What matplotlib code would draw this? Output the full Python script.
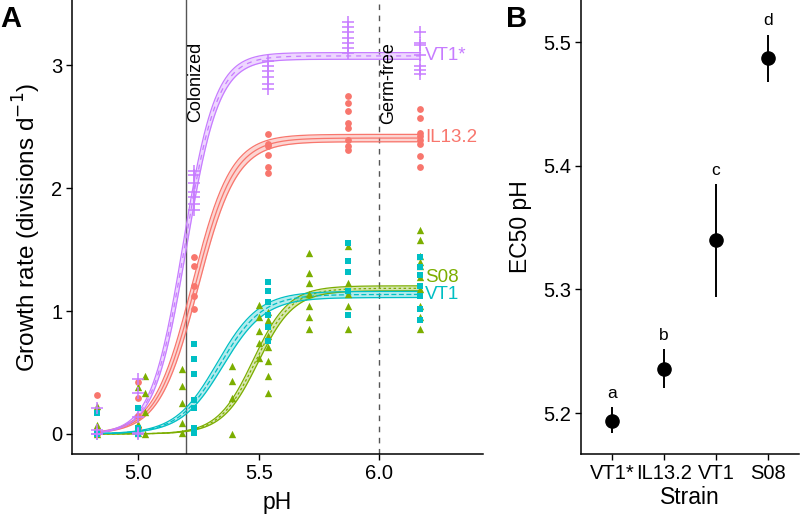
import numpy as np
import matplotlib
matplotlib.use("Agg")
import matplotlib.pyplot as plt

plt.rcParams['font.family'] = ['Liberation Sans', 'DejaVu Sans']

# strains in legend/group order
strains = ["IL13.2", "S08", "VT1", "VT1*"]
colors = ["#F8766D", "#7CAE00", "#00BFC4", "#C77CFF"]
markers = ["o", "^", "s", "+"]
dashes = [None, (2, 2), (4, 2), (4, 4)]

# growth rate observations: pH -> rates (divisions per day)
il132_obs = {4.83: [0.32, 0.03, 0.01, 0.0],
             5.00: [0.42, 0.29, 0.15, 0.05],
             5.23: [1.44, 1.37, 1.20, 1.12, 1.02],
             5.54: [2.44, 2.36, 2.34, 2.27, 2.17, 2.12],
             5.87: [2.75, 2.69, 2.63, 2.53, 2.49, 2.39, 2.34, 2.31],
             6.17: [2.64, 2.57, 2.45, 2.42, 2.39, 2.36, 2.26, 2.17]}
s08_obs = {4.83: [0.23, 0.07, 0.0],
           5.00: [0.38, 0.08, 0.01],
           5.03: [0.47, 0.33, 0.18, 0.0],
           5.18: [0.53, 0.39, 0.25, 0.09, 0.01],
           5.39: [0.55, 0.43, 0.29, 0.0],
           5.50: [1.05, 0.95, 0.84, 0.74, 0.62],
           5.54: [0.99, 0.93, 0.80, 0.71, 0.59, 0.47, 0.33],
           5.71: [1.47, 1.31, 1.23, 1.14, 1.04, 0.95, 0.85],
           5.87: [1.53, 1.23, 1.14, 1.04, 0.85],
           6.17: [1.66, 1.58, 1.45, 1.40, 1.37, 1.28, 1.18, 1.04, 0.95, 0.85]}
vt1_obs = {4.83: [0.17, 0.01, 0.0],
           5.00: [0.21, 0.05, 0.0],
           5.23: [0.73, 0.61, 0.49, 0.28, 0.21, 0.05, 0.01],
           5.54: [1.24, 1.16, 1.07, 0.97, 0.87, 0.76],
           5.87: [1.55, 1.41, 1.32, 1.16, 0.97],
           6.17: [1.44, 1.36, 1.29, 1.20, 1.12, 1.02, 0.93]}
vt1s_obs = {4.83: [0.21, 0.03, 0.0, 0.0],
            5.00: [0.45, 0.33, 0.14, 0.01, 0.0],
            5.23: [2.14, 2.11, 2.04, 1.97, 1.93, 1.87, 1.82],
            5.54: [3.03, 2.99, 2.95, 2.90, 2.85, 2.81],
            5.87: [3.35, 3.31, 3.27, 3.22, 3.18, 3.14, 3.10],
            6.17: [3.27, 3.18, 3.16, 3.08, 2.99, 2.96, 2.93]}
observations = [il132_obs, s08_obs, vt1_obs, vt1s_obs]

# logistic fit parameters
fit_max = [2.407, 1.185, 1.135, 3.075]
fit_ec50 = [5.236, 5.487, 5.340, 5.194]
fit_rate = [12.5, 13.5, 11.5, 15.0]
band_dmax = [0.03, 0.02, 0.025, 0.027]
band_dec50 = [0.012, 0.010, 0.012, 0.007]
label_y = [2.41, 1.275, 1.135, 3.08]

# EC50 estimates (panel B)
ec50_strains = ["VT1*", "IL13.2", "VT1", "S08"]
ec50_est = [5.194, 5.236, 5.340, 5.487]
ec50_lo = [5.184, 5.220, 5.294, 5.468]
ec50_hi = [5.205, 5.252, 5.385, 5.506]
ec50_group = ["a", "b", "c", "d"]


def logistic(x, k, ec, r):
    return k / (1 + np.exp(-r * (x - ec)))


def style(ax):
    for s in ["top", "right"]:
        ax.spines[s].set_visible(False)
    for s in ["left", "bottom"]:
        ax.spines[s].set_linewidth(1.1)
    ax.tick_params(direction="out", length=4, width=1, labelsize=14.5,
                   colors="black", pad=3)


fig = plt.figure(figsize=(8, 5.14), dpi=100)
axA = fig.add_axes([0.09, 0.1167, 0.514, 0.8833])
axB = fig.add_axes([0.726, 0.1167, 0.273, 0.8833])

# panel A
xs = np.linspace(4.83, 6.17, 300)
for i, name in enumerate(strains):
    c = colors[i]
    lo = logistic(xs, fit_max[i] - band_dmax[i], fit_ec50[i] + band_dec50[i], fit_rate[i])
    hi = logistic(xs, fit_max[i] + band_dmax[i], fit_ec50[i] - band_dec50[i], fit_rate[i])
    axA.fill_between(xs, lo, hi, color=c, alpha=0.3, lw=0, zorder=2)
    axA.plot(xs, lo, color=c, lw=0.9, zorder=3)
    axA.plot(xs, hi, color=c, lw=0.9, zorder=3)
    mid, = axA.plot(xs, logistic(xs, fit_max[i], fit_ec50[i], fit_rate[i]),
                    color=c, lw=0.9, zorder=3)
    if dashes[i] is not None:
        mid.set_dashes(dashes[i])
    axA.text(6.19, label_y[i], name, color=c, fontsize=13.5, ha="left", va="center",
             zorder=5)

for i, obs in enumerate(observations):
    px = [p for p, vals in obs.items() for _ in vals]
    py = [v for vals in obs.values() for v in vals]
    if markers[i] == "+":
        axA.scatter(px, py, marker="+", s=75, color=colors[i], linewidths=1.1, zorder=4)
    else:
        size = 28 if markers[i] == "^" else 24
        axA.scatter(px, py, marker=markers[i], s=size, color=colors[i],
                    linewidths=0, zorder=4)

axA.axvline(5.2, color="#555555", lw=1.0, zorder=1)
axA.axvline(6.0, color="#555555", lw=1.0, ls=(0, (4, 4)), zorder=1)
axA.text(5.203, 3.19, "Colonized", rotation=90, ha="left", va="top", fontsize=13)
axA.text(6.003, 3.19, "Germ-free", rotation=90, ha="left", va="top", fontsize=13)

axA.set_xlim(4.726, 6.43)
axA.set_ylim(-0.163, 3.53)
axA.set_xticks([5.0, 5.5, 6.0])
axA.set_xticklabels(["5.0", "5.5", "6.0"])
axA.set_yticks([0, 1, 2, 3])
axA.set_xlabel("pH", fontsize=16.5, labelpad=6)
axA.set_ylabel("Growth rate (divisions d$^{-1}$)", fontsize=17.5, labelpad=6)
style(axA)

# panel B
pos = np.arange(1, len(ec50_strains) + 1)
err = [np.array(ec50_est) - np.array(ec50_lo), np.array(ec50_hi) - np.array(ec50_est)]
axB.errorbar(pos, ec50_est, yerr=err, fmt="o", color="black", ms=9.5,
             elinewidth=1.4, capsize=0)
for p, h, g in zip(pos, ec50_hi, ec50_group):
    axB.text(p, h + 0.005, g, ha="center", va="bottom", fontsize=12.5)
axB.set_xlim(0.4, 4.6)
axB.set_ylim(5.167, 5.534)
axB.set_xticks(pos)
axB.set_xticklabels(ec50_strains)
axB.set_yticks([5.2, 5.3, 5.4, 5.5])
axB.set_xlabel("Strain", fontsize=16.5, labelpad=2)
axB.set_ylabel("EC50 pH", fontsize=16.5, labelpad=8)
style(axB)

fig.text(0.0, 0.99, "A", fontsize=21, fontweight="bold", ha="left", va="top")
fig.text(0.633, 0.99, "B", fontsize=21, fontweight="bold", ha="left", va="top")

fig.savefig("out.png", dpi=100)
